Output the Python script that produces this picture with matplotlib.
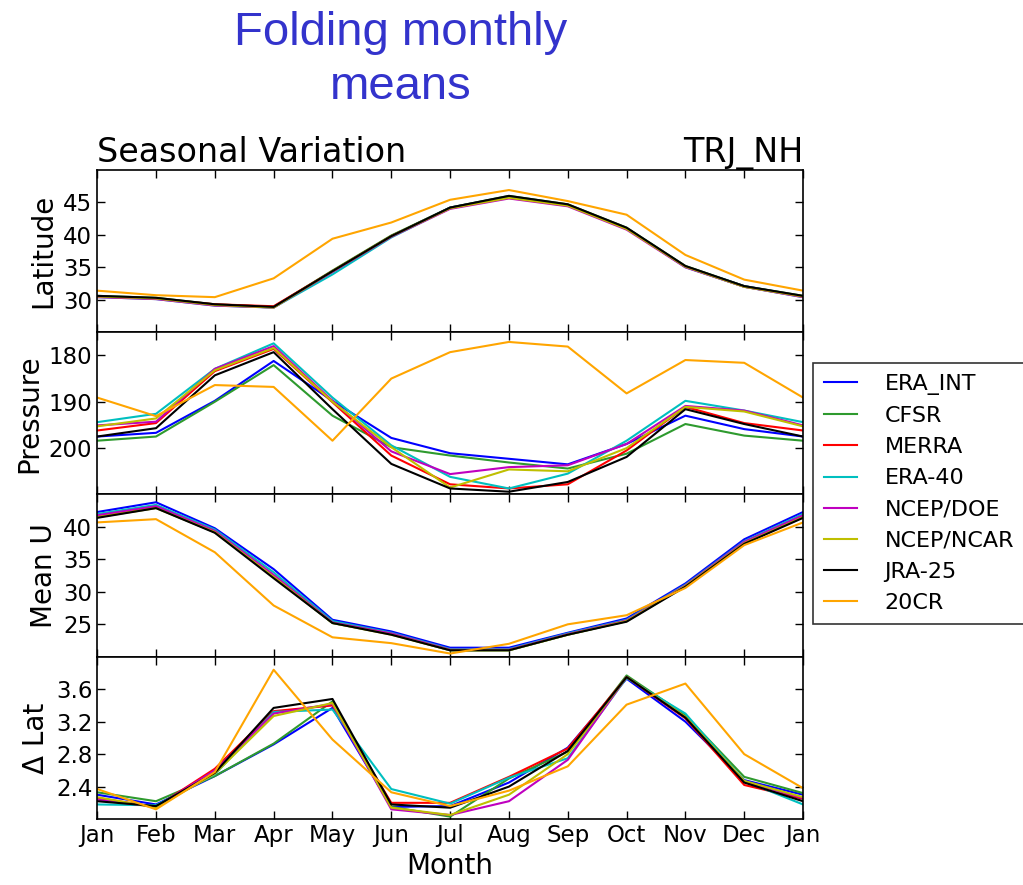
import matplotlib
matplotlib.use("Agg")
import matplotlib.pyplot as plt
import numpy as np

months = ["Jan", "Feb", "Mar", "Apr", "May", "Jun", "Jul", "Aug", "Sep", "Oct", "Nov", "Dec", "Jan"]
datasets = ["ERA_INT", "CFSR", "MERRA", "ERA-40", "NCEP/DOE", "NCEP/NCAR", "JRA-25", "20CR"]
colors = ["b", "#2e9a2e", "r", "c", "m", "y", "k", "orange"]

latitude = {
    "ERA_INT":   [30.5, 30.2, 29.2, 28.8, 34.3, 39.8, 44.2, 45.9, 44.6, 41.0, 35.1, 32.1, 30.5],
    "CFSR":      [30.6, 30.3, 29.3, 28.9, 34.5, 39.9, 44.2, 46.0, 44.7, 41.1, 35.2, 32.1, 30.6],
    "MERRA":     [30.5, 30.2, 29.3, 29.0, 34.4, 39.8, 44.1, 45.8, 44.6, 41.0, 35.1, 32.0, 30.5],
    "ERA-40":    [30.4, 30.1, 29.1, 28.8, 33.9, 39.6, 44.1, 45.8, 44.5, 41.0, 35.0, 32.0, 30.4],
    "NCEP/DOE":  [30.4, 30.1, 29.1, 28.8, 34.3, 39.7, 44.0, 45.6, 44.4, 40.8, 35.0, 32.0, 30.4],
    "NCEP/NCAR": [30.5, 30.2, 29.2, 28.8, 34.4, 39.8, 44.1, 45.7, 44.5, 40.9, 35.1, 32.0, 30.5],
    "JRA-25":    [30.6, 30.3, 29.3, 28.9, 34.4, 39.8, 44.2, 46.0, 44.7, 41.1, 35.2, 32.1, 30.6],
    "20CR":      [31.4, 30.7, 30.4, 33.3, 39.4, 41.9, 45.4, 46.9, 45.2, 43.1, 36.9, 33.1, 31.4],
}

pressure = {
    "ERA_INT":   [197.5, 196.7, 189.8, 181.2, 189.8, 197.8, 201.1, 202.3, 203.5, 199.1, 193.0, 195.9, 197.5],
    "CFSR":      [198.4, 197.5, 190.0, 182.1, 193.0, 199.8, 201.6, 203.1, 204.4, 201.2, 194.8, 197.3, 198.4],
    "MERRA":     [196.2, 194.6, 183.4, 178.6, 190.1, 201.6, 207.8, 208.7, 207.8, 200.5, 191.1, 194.6, 196.2],
    "ERA-40":    [194.4, 192.6, 182.9, 177.4, 189.1, 199.4, 206.2, 208.7, 205.5, 198.4, 189.8, 191.9, 194.4],
    "NCEP/DOE":  [195.1, 194.3, 182.9, 178.0, 189.8, 200.7, 205.6, 204.1, 203.7, 199.1, 190.9, 191.9, 195.1],
    "NCEP/NCAR": [195.3, 193.6, 183.2, 178.4, 190.0, 199.8, 208.5, 204.6, 205.0, 200.0, 191.1, 192.1, 195.3],
    "JRA-25":    [197.5, 195.7, 184.3, 179.3, 191.6, 203.4, 208.7, 209.4, 207.3, 201.9, 191.6, 194.8, 197.5],
    "20CR":      [189.1, 193.1, 186.4, 186.8, 198.4, 185.0, 179.3, 177.1, 178.1, 188.2, 181.0, 181.6, 189.1],
}

mean_u = {
    "ERA_INT":   [42.3, 43.8, 39.8, 33.5, 25.7, 23.9, 21.4, 21.4, 23.7, 25.9, 31.3, 38.1, 42.3],
    "CFSR":      [41.6, 43.0, 39.2, 32.3, 25.2, 23.5, 21.0, 21.0, 23.4, 25.5, 30.9, 37.5, 41.6],
    "MERRA":     [41.7, 43.1, 39.3, 32.5, 25.3, 23.5, 21.1, 21.1, 23.5, 25.6, 31.0, 37.6, 41.7],
    "ERA-40":    [42.0, 43.4, 39.6, 33.0, 25.5, 23.7, 21.2, 21.2, 23.6, 25.7, 31.1, 37.8, 42.0],
    "NCEP/DOE":  [41.8, 43.2, 39.4, 32.6, 25.3, 23.6, 21.1, 21.1, 23.5, 25.6, 31.0, 37.7, 41.8],
    "NCEP/NCAR": [41.5, 42.9, 39.2, 32.3, 25.2, 23.4, 21.0, 21.0, 23.4, 25.5, 30.9, 37.5, 41.5],
    "JRA-25":    [41.4, 42.9, 39.1, 32.1, 25.2, 23.4, 21.0, 21.0, 23.4, 25.4, 30.8, 37.4, 41.4],
    "20CR":      [40.7, 41.2, 36.1, 27.9, 23.0, 22.1, 20.5, 22.0, 25.0, 26.4, 30.6, 37.2, 40.7],
}

delta_lat = {
    "ERA_INT":   [2.30, 2.18, 2.53, 2.92, 3.37, 2.15, 2.16, 2.45, 2.88, 3.73, 3.20, 2.48, 2.30],
    "CFSR":      [2.33, 2.22, 2.53, 2.93, 3.45, 2.15, 2.03, 2.50, 2.83, 3.77, 3.28, 2.52, 2.32],
    "MERRA":     [2.26, 2.15, 2.62, 3.33, 3.40, 2.20, 2.20, 2.52, 2.87, 3.75, 3.24, 2.42, 2.25],
    "ERA-40":    [2.18, 2.17, 2.55, 3.32, 3.35, 2.37, 2.19, 2.51, 2.75, 3.74, 3.30, 2.47, 2.18],
    "NCEP/DOE":  [2.24, 2.15, 2.60, 3.30, 3.42, 2.12, 2.05, 2.22, 2.73, 3.75, 3.25, 2.46, 2.26],
    "NCEP/NCAR": [2.27, 2.14, 2.56, 3.27, 3.43, 2.14, 2.05, 2.30, 2.80, 3.75, 3.26, 2.47, 2.27],
    "JRA-25":    [2.22, 2.16, 2.57, 3.37, 3.48, 2.18, 2.14, 2.40, 2.84, 3.75, 3.25, 2.45, 2.22],
    "20CR":      [2.37, 2.12, 2.58, 3.84, 2.98, 2.33, 2.16, 2.35, 2.65, 3.41, 3.67, 2.80, 2.38],
}

panels = [
    ("Latitude", latitude, (25, 50), [30, 35, 40, 45]),
    ("Pressure", pressure, (210, 175), [180, 190, 200]),
    ("Mean U", mean_u, (20, 45), [25, 30, 35, 40]),
    ("\u0394 Lat", delta_lat, (2.0, 4.0), [2.4, 2.8, 3.2, 3.6]),
]

fig = plt.figure(figsize=(10.23, 8.85), dpi=100)
fig.text(0.392, 0.988, "Folding monthly\nmeans", ha="center", va="top",
         fontsize=34, color="#3333cc", family="Liberation Sans", linespacing=1.3)

x = np.arange(len(months))
left, right = 0.095, 0.785
bottom, top = 0.0745, 0.808
h = (top - bottom) / 4
axes = []
for i, (label, data, ylim, yticks) in enumerate(panels):
    ax = fig.add_axes([left, top - (i + 1) * h, right - left, h])
    for name, c in zip(datasets, colors):
        ax.plot(x, data[name], color=c, lw=1.5, label=name)
    ax.set_xlim(0, 12)
    ax.set_ylim(*ylim)
    ax.set_yticks(yticks)
    ax.set_xticks(x)
    ax.set_ylabel(label, fontsize=20)
    ax.tick_params(direction="in", top=True, right=True, length=6, width=1,
                   labelsize=16.5)
    if i < 3:
        ax.set_xticklabels([])
    else:
        ax.set_xticklabels(months)
        ax.set_xlabel("Month", fontsize=20)
    for s in ax.spines.values():
        s.set_linewidth(1.2)
    axes.append(ax)

axes[0].set_title("Seasonal Variation", loc="left", fontsize=24, pad=1)
axes[0].set_title("TRJ_NH", loc="right", fontsize=24, pad=1)
fig.align_ylabels(axes)

handles, labels = axes[0].get_legend_handles_labels()
leg = fig.legend(handles, labels, loc="upper left", bbox_to_anchor=(0.795, 0.59),
                 fontsize=16, frameon=True, fancybox=False, edgecolor="black",
                 handlelength=1.45, handletextpad=1.25, labelspacing=0.5,
                 borderpad=0.5, borderaxespad=0)
leg.get_frame().set_linewidth(1.2)

fig.savefig("out.png", dpi=100)
